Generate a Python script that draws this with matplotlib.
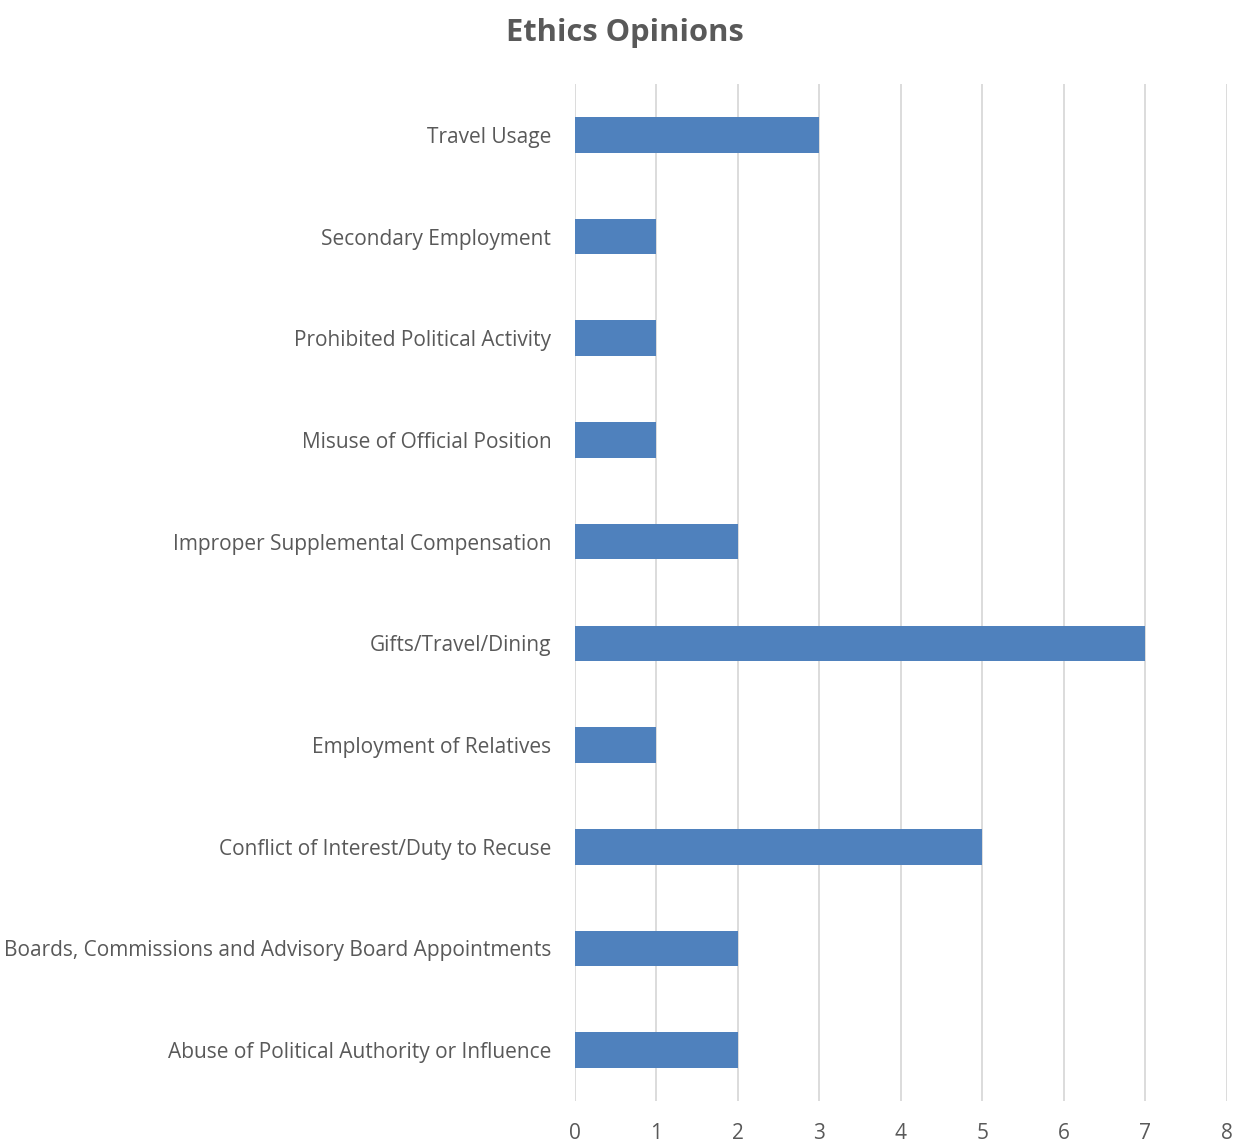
import matplotlib
matplotlib.use("Agg")
import matplotlib.pyplot as plt

categories = [
    "Abuse of Political Authority or Influence",
    "Boards, Commissions and Advisory Board Appointments",
    "Conflict of Interest/Duty to Recuse",
    "Employment of Relatives",
    "Gifts/Travel/Dining",
    "Improper Supplemental Compensation",
    "Misuse of Official Position",
    "Prohibited Political Activity",
    "Secondary Employment",
    "Travel Usage",
]
values = [2, 2, 5, 1, 7, 2, 1, 1, 1, 3]
x_ticks = [0, 1, 2, 3, 4, 5, 6, 7, 8]

TEXT = "#595959"
plt.rcParams["font.family"] = ["Open Sans", "DejaVu Sans"]

fig = plt.figure(figsize=(12.33, 11.42), dpi=100)
ax = fig.add_axes([0.4663, 0.0359, 0.5288, 0.8905])

ax.barh(range(len(categories)), values, height=0.35, color="#4F81BD", zorder=3)
ax.set_ylim(-0.5, len(categories) - 0.5)
ax.set_xlim(0, 8)
ax.set_xticks(x_ticks)
ax.set_yticks(range(len(categories)))
ax.set_yticklabels(categories)
ax.tick_params(axis="both", length=0, colors=TEXT, labelsize=15)
ax.tick_params(axis="y", pad=17)
ax.tick_params(axis="x", pad=16)
ax.grid(True, axis="x", color="#D9D9D9", linewidth=1.3, zorder=0)
for s in ax.spines.values():
    s.set_visible(False)

fig.text(0.507, 1 - 33 / 1142, "Ethics Opinions", ha="center", va="center",
         fontsize=22.2, fontweight="bold", color=TEXT)

fig.savefig("out.png", dpi=100)
